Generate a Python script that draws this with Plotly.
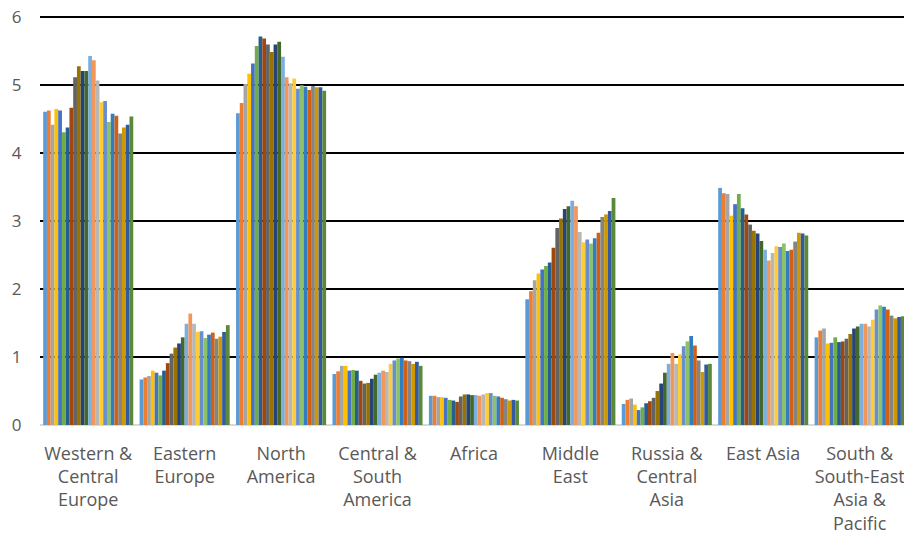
import plotly.graph_objects as go

categories = [
    "Western &<br>Central<br>Europe",
    "Eastern<br>Europe",
    "North<br>America",
    "Central &<br>South<br>America",
    "Africa",
    "Middle<br>East",
    "Russia &<br>Central<br>Asia",
    "East Asia",
    "South &<br>South-East<br>Asia &<br>Pacific",
]

# values per region, one entry per series (24 series)
western_central_europe = [4.61, 4.63, 4.42, 4.65, 4.63, 4.31, 4.38, 4.67, 5.12, 5.28, 5.21, 5.21,
                          5.43, 5.37, 5.07, 4.75, 4.77, 4.46, 4.58, 4.55, 4.29, 4.38, 4.42, 4.54]
eastern_europe = [0.67, 0.70, 0.72, 0.80, 0.77, 0.73, 0.80, 0.91, 1.05, 1.14, 1.20, 1.29,
                  1.49, 1.64, 1.49, 1.37, 1.38, 1.28, 1.33, 1.36, 1.27, 1.30, 1.37, 1.47]
north_america = [4.59, 4.74, 5.02, 5.17, 5.32, 5.58, 5.72, 5.69, 5.60, 5.49, 5.60, 5.64,
                 5.42, 5.12, 5.03, 5.10, 4.95, 5.00, 4.98, 4.93, 4.99, 4.97, 4.97, 4.92]
central_south_america = [0.75, 0.79, 0.87, 0.87, 0.80, 0.81, 0.80, 0.65, 0.61, 0.62, 0.68, 0.74,
                         0.77, 0.80, 0.78, 0.90, 0.95, 0.98, 0.99, 0.95, 0.94, 0.90, 0.93, 0.87]
africa = [0.43, 0.43, 0.41, 0.41, 0.40, 0.37, 0.36, 0.34, 0.42, 0.45, 0.45, 0.44,
          0.44, 0.43, 0.45, 0.47, 0.47, 0.43, 0.42, 0.40, 0.38, 0.36, 0.37, 0.36]
middle_east = [1.85, 1.97, 2.13, 2.23, 2.29, 2.34, 2.39, 2.61, 2.90, 3.04, 3.18, 3.22,
               3.30, 3.22, 2.84, 2.69, 2.73, 2.67, 2.75, 2.83, 3.06, 3.10, 3.15, 3.34]
russia_central_asia = [0.31, 0.37, 0.39, 0.30, 0.22, 0.26, 0.32, 0.35, 0.40, 0.50, 0.61, 0.77,
                       0.90, 1.06, 0.90, 1.04, 1.16, 1.23, 1.31, 1.17, 0.95, 0.78, 0.89, 0.90]
east_asia = [3.49, 3.41, 3.40, 3.08, 3.25, 3.40, 3.19, 3.10, 2.95, 2.86, 2.82, 2.71,
             2.58, 2.42, 2.53, 2.63, 2.62, 2.67, 2.56, 2.58, 2.70, 2.83, 2.82, 2.79]
south_se_asia_pacific = [1.29, 1.39, 1.42, 1.20, 1.21, 1.29, 1.22, 1.23, 1.27, 1.34, 1.42, 1.45,
                         1.49, 1.49, 1.45, 1.55, 1.70, 1.76, 1.74, 1.70, 1.61, 1.57, 1.59, 1.60]

regions = [western_central_europe, eastern_europe, north_america, central_south_america,
           africa, middle_east, russia_central_asia, east_asia, south_se_asia_pacific]

colors = ["#5B9BD5", "#ED7D31", "#A5A5A5", "#FFC000", "#4472C4", "#70AD47",
          "#255E91", "#9E480E", "#636363", "#997300", "#264478", "#43682B",
          "#7CAFDD", "#F1975A", "#B7B7B7", "#FFCD33", "#698ED0", "#8CC168",
          "#327DC2", "#D26012", "#848484", "#CC9A00", "#335AA1", "#5A8A39"]

n_series = len(western_central_europe)
fig = go.Figure()
for s in range(n_series):
    fig.add_trace(go.Bar(
        x=categories,
        y=[r[s] for r in regions],
        name=f"Series {s + 1}",
        marker=dict(color=colors[s], line=dict(width=0)),
    ))

fig.update_layout(
    width=904, height=536,
    margin=dict(l=40, r=0, t=16, b=111, autoexpand=False),
    paper_bgcolor="white", plot_bgcolor="white",
    barmode="group", bargap=0.066, bargroupgap=0,
    showlegend=False,
    font=dict(family="Open Sans", color="#595959"),
)
fig.update_xaxes(
    range=[-0.5, 8.46], automargin=False,
    showgrid=False, showline=False, zeroline=False,
    ticks="outside", ticklen=12, tickcolor="rgba(0,0,0,0)",
    tickfont=dict(size=18, color="#595959"),
    tickangle=0,
)
fig.update_yaxes(
    range=[0, 6.02], dtick=1, automargin=False,
    showgrid=True, gridcolor="#000000", gridwidth=1.6,
    zeroline=True, zerolinecolor="#D9D9D9", zerolinewidth=2,
    showline=False,
    ticks="outside", ticklen=14, tickcolor="rgba(0,0,0,0)",
    tickfont=dict(size=17, color="#595959"),
)

fig.write_html(
    "out.html",
    config={"displayModeBar": False},
    post_script=(
        "document.documentElement.style.overflow='hidden';"
        "document.body.style.margin='0';"
        "document.body.style.overflow='hidden';"
    ),
)
